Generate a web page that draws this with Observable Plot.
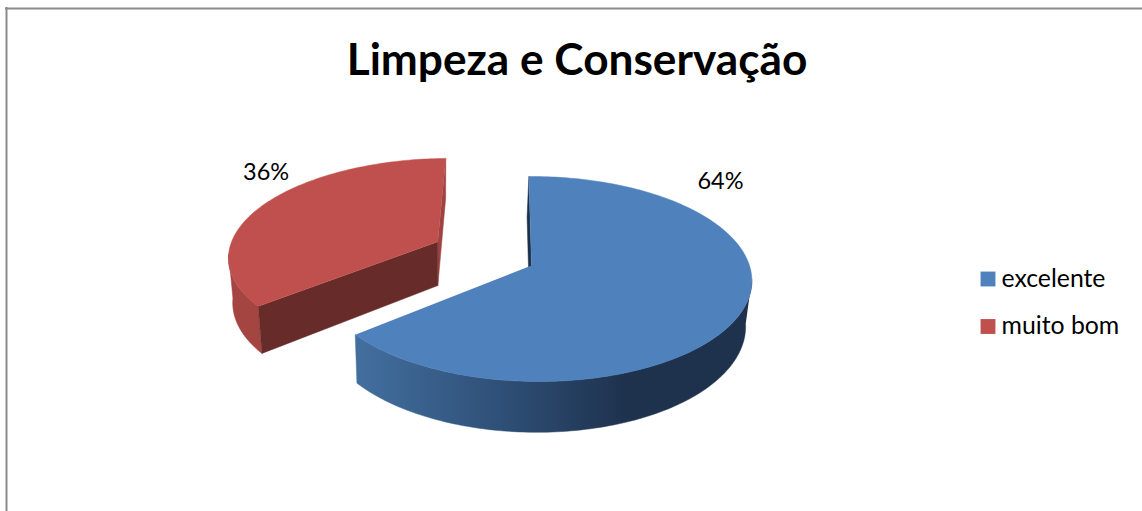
<!DOCTYPE html>
<html lang="pt">
<head>
<meta charset="utf-8">
<style>
  html, body { margin: 0; padding: 0; background: #fff; }
  svg { display: block; }
</style>
<script src="https://cdn.jsdelivr.net/npm/d3@7"></script>
<script src="https://cdn.jsdelivr.net/npm/@observablehq/plot@0.6"></script>
</head>
<body>
<div id="chart"></div>
<script>
// Survey result: "Limpeza e Conservação"
const title = "Limpeza e Conservação";
const categories = ["excelente", "muito bom"];
const shares = [64, 36];
const colors = ["#4f81bd", "#c0504d"];

// Tilted-disc camera for the 3D pie
const width = 1142, height = 511;
const cam = { ax: 531, ay: 265, kx: 214.7, ky: 100.7, p: 0.1317, q: -0.015, skew: -3 };
const depth = { base: 45, grow: 0.05, vx: 440, shrink: 0.98 };

// Ground placement of each slice: the red one is pulled out along its mid-angle
const offsets = [[0, 0], [-0.45, 0.245]];
const stretch = [1, 1.02];

// Ground point (unit disc, z pointing away from the viewer) to page position
function project(gx, gz) {
  const w = 1 + cam.p * gz + cam.q * gx;
  return [cam.ax + (cam.kx * gx + cam.skew * gz) / w, cam.ay - cam.ky * gz / w];
}
// Same ground point on the underside of the disc
function lower([x, y]) {
  return [depth.vx + (x - depth.vx) * depth.shrink, y + depth.base + (y - cam.ay) * depth.grow];
}

const arcs = d3.pie().sort(null).value((d) => d)(shares);

const slices = arcs.map((a, i) => {
  const off = offsets[i];
  const rim = (angle) => project(off[0] + stretch[i] * Math.sin(angle), off[1] + Math.cos(angle));
  const arcPoints = (a0, a1) => {
    const n = Math.max(2, Math.ceil(Math.abs(a1 - a0) / 0.02));
    return d3.range(n + 1).map((k) => rim(a0 + (a1 - a0) * (k / n)));
  };
  const apex = project(off[0], off[1]);
  return {
    top: [apex, ...arcPoints(a.startAngle, a.endAngle)],
    startFace: [rim(a.startAngle), lower(rim(a.startAngle)), lower(apex), apex],
    endFace: [apex, rim(a.endAngle), lower(rim(a.endAngle)), lower(apex)],
    wall(a0, a1) {
      const upper = arcPoints(a0, a1);
      return [...upper, ...upper.slice().reverse().map(lower)];
    }
  };
});
const [blue, red] = slices;

// Outer walls run from the disc's silhouette point to the slice edge
const blueWall = blue.wall(Math.PI * 0.542, arcs[0].endAngle);
const redWall = red.wall(arcs[1].startAngle, Math.PI * 1.46);

const polygon = (pts, fill) =>
  Plot.line(pts, { x: (d) => d[0], y: (d) => d[1], fill, stroke: fill, strokeWidth: 0.5 });

// Side shading of the large slice, dark to the right
function wallGradient() {
  const defs = d3.create("svg:defs");
  const g = defs.append("linearGradient")
    .attr("id", "wall-shade")
    .attr("gradientUnits", "userSpaceOnUse")
    .attr("x1", 355).attr("x2", 625).attr("y1", 0).attr("y2", 0);
  g.append("stop").attr("offset", 0).attr("stop-color", "#436f9f");
  g.append("stop").attr("offset", 0.5).attr("stop-color", "#30527a");
  g.append("stop").attr("offset", 1).attr("stop-color", "#1e324e");
  return defs.node();
}

// Value labels sit at a bearing and radius on the disc plane
const labelPlaces = [[0.82, 1.35], [5.36, 1.784]];
const labels = shares.map((v, i) => {
  const [angle, r] = labelPlaces[i];
  const [x, y] = project(r * Math.sin(angle), r * Math.cos(angle));
  return { x, y, text: `${v}%` };
});

const legend = categories.map((c, i) => ({ c, row: i }));
const legendX = 987.5, legendTextX = 1001, legendY0 = 278.5, legendStep = 47.5;

const chart = Plot.plot({
  width, height,
  margin: 0,
  x: { domain: [0, width], range: [0, width], axis: null },
  y: { domain: [0, height], range: [0, height], axis: null },
  color: { domain: categories, range: colors },
  style: { fontFamily: "Lato, Carlito, sans-serif", background: "#fff" },
  marks: [
    wallGradient,
    // chart frame
    Plot.ruleY([8], { x1: 5, x2: width, stroke: "#8a8a8a", strokeWidth: 2 }),
    Plot.ruleX([6], { y1: 7, y2: height, stroke: "#8a8a8a", strokeWidth: 2 }),
    // title
    Plot.text([title], { x: 576.5, y: 60, text: (d) => d, fontSize: 44.2, fontWeight: 700, fill: "#000" }),
    // muito bom
    polygon(red.endFace, "#a04340"),
    polygon(redWall, "#a54542"),
    polygon(red.startFace, "#672b29"),
    polygon(red.top, colors[1]),
    // excelente
    polygon(blue.startFace, "#1c3048"),
    polygon(blueWall, "url(#wall-shade)"),
    polygon(blue.top, colors[0]),
    // value labels
    Plot.text(labels, { x: "x", y: "y", text: "text", fontSize: 23.5, fill: "#000" }),
    // legend
    Plot.dot(legend, {
      x: () => legendX, y: (d) => legendY0 + d.row * legendStep,
      symbol: "square", r: 8.4, fill: "c", stroke: null
    }),
    Plot.text(legend, {
      x: () => legendTextX, y: (d) => legendY0 + d.row * legendStep,
      text: "c", textAnchor: "start", fontSize: 24.8, fill: "#000"
    })
  ]
});
document.getElementById("chart").append(chart);
</script>
</body>
</html>
